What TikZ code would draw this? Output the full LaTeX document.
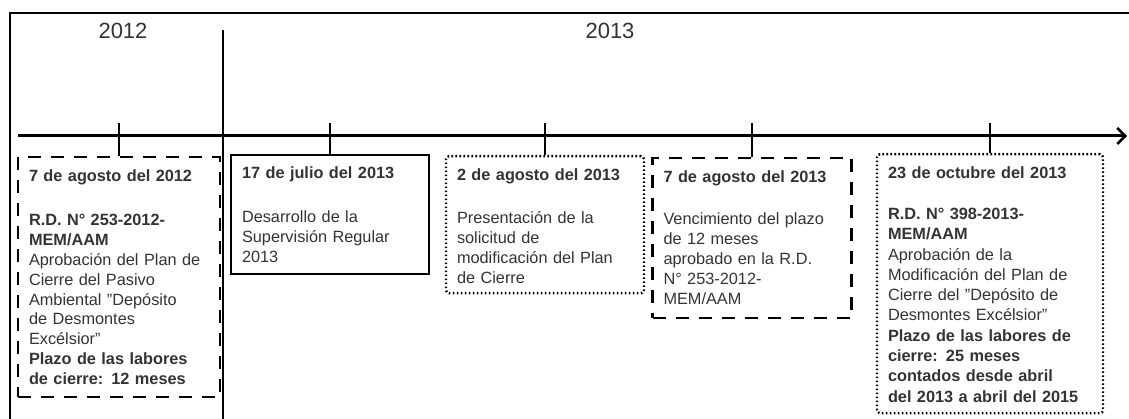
\documentclass[tikz,border=0pt]{standalone}
\usepackage{fontspec}
\setmainfont{Liberation Sans}
\usepackage{tikz}
\usetikzlibrary{arrows.meta, positioning, calc}
\definecolor{inkgray}{HTML}{333333}
\newcommand{\titlegap}[1][25pt]{\par\vspace{#1}}

\begin{document}
\begin{tikzpicture}[x=1pt, y=-1pt, node distance=0pt,
  every node/.style={text=inkgray, font=\fontsize{16.3}{19.8}\selectfont, align=left, inner xsep=11pt, inner ysep=12pt, text height=12pt, anchor=north},
  dashbox/.style={draw, line width=2.4pt, dash pattern=on 13pt off 10pt},
  solidbox/.style={draw, line width=2pt},
  dotbox/.style={draw, line width=2.4pt, dash pattern=on 1.6pt off 2.4pt, rounded corners=3pt},
  yearlabel/.style={font=\fontsize{22}{26}\selectfont, inner sep=0pt, text height=, anchor=center}]
\useasboundingbox (0,0) rectangle (1129,419);
% frame and years
\draw[line width=1.5pt] (10,419) -- (10,13) -- (1129,13);
\draw[line width=1.5pt] (223,30) -- (223,419);
\node[yearlabel] (y12) at (123,31) {2012};
\node[yearlabel] (y13) at (610,31) {2013};
% time axis
\coordinate (start) at (18,136);
\coordinate (stop) at (1127,136);
\draw[line width=3pt, -{Straight Barb[length=8pt, width=16pt, line width=2.5pt]}] (start) -- (stop);
\coordinate (t1) at (119,136);
\coordinate (t2) at (330,136);
\coordinate (t3) at (545,136);
\coordinate (t4) at (752,136);
\coordinate (t5) at (990,136);
% events
\node[dashbox, below=20pt of t1, minimum width=202pt, text width=180pt, text depth=204pt] (b1) {\textbf{7 de agosto del 2012}\titlegap
\textbf{R.D. N° 253-2012-}\\ \textbf{MEM/AAM}\\ Aprobación del Plan de\\ Cierre del Pasivo\\ Ambiental "Depósito\\ de Desmontes\\ Excélsior"\\ \textbf{Plazo de las labores}\\ \textbf{de cierre: 12 meses}};
\node[solidbox, below=18pt of t2, minimum width=198pt, text width=176pt, text depth=83pt] (b2) {\textbf{17 de julio del 2013}\titlegap[24pt]
Desarrollo de la\\ Supervisión Regular\\ 2013};
\node[dotbox, below=19pt of t3, minimum width=198pt, text width=176pt, text depth=101pt] (b3) {\textbf{2 de agosto del 2013}\titlegap[24pt]
Presentación de la\\ solicitud de\\ modificación del Plan\\ de Cierre};
\node[dashbox, below=21pt of t4, minimum width=199pt, text width=177pt, text depth=124pt] (b4) {\textbf{7 de agosto del 2013}\titlegap[23pt]
Vencimiento del plazo\\ de 12 meses\\ aprobado en la R.D.\\ N° 253-2012-\\ MEM/AAM};
\node[dotbox, below=17pt of t5, minimum width=226pt, text width=204pt, text depth=223pt, font=\fontsize{16.3}{20.3}\selectfont] (b5) {\textbf{23 de octubre del 2013}\titlegap[21pt]
\textbf{R.D. N° 398-2013-}\\ \textbf{MEM/AAM}\\ Aprobación de la\\ Modificación del Plan de\\ Cierre del "Depósito de\\ Desmontes Excélsior"\\ \textbf{Plazo de las labores de}\\ \textbf{cierre: 25 meses}\\ \textbf{contados desde abril}\\ \textbf{del 2013 a abril del 2015}};
% ticks
\foreach \i in {1,...,5}
  \draw[line width=1.3pt] ([yshift=13pt]t\i) -- (b\i.north);
\end{tikzpicture}
\end{document}
